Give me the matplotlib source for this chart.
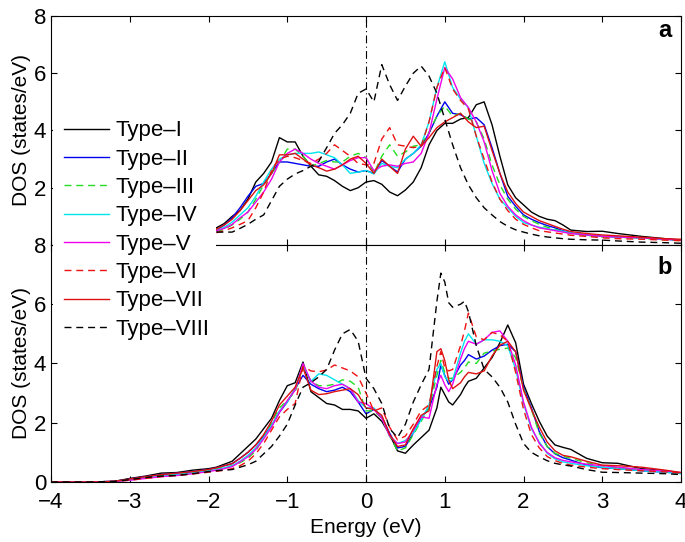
import matplotlib
matplotlib.use('Agg')
import matplotlib.pyplot as plt
from matplotlib.patches import Rectangle

plt.rcParams['font.family'] = ['Liberation Sans', 'DejaVu Sans']

# energy grid, panel a
e_a = [-1.9, -1.8, -1.7, -1.6, -1.5, -1.4, -1.3, -1.2, -1.1, -1.0,
       -0.9, -0.8, -0.7, -0.6, -0.5, -0.4, -0.3, -0.2, -0.1, 0.0,
       0.1, 0.2, 0.3, 0.4, 0.5, 0.6, 0.7, 0.8, 0.9, 1.0,
       1.1, 1.2, 1.3, 1.4, 1.5, 1.6, 1.7, 1.8, 1.9, 2.0,
       2.1, 2.2, 2.3, 2.4, 2.5, 2.6,
       2.8, 3.0, 3.2, 3.5, 3.8, 4.0]

a_t1 = [0.6, 0.75, 1.0, 1.2, 1.6, 2.2, 2.5, 2.9, 3.75, 3.6,
        3.6, 3.1, 2.75, 2.45, 2.4, 2.25, 2.05, 1.9, 2.0, 2.2,
        2.25, 2.12, 1.85, 1.72, 1.92, 2.2, 2.7, 3.5, 4.0, 4.25,
        4.25, 4.4, 4.45, 4.9, 5.0, 4.2, 3.1, 2.1, 1.65, 1.4,
        1.15, 1.0, 0.9, 0.85, 0.7, 0.52,
        0.47, 0.48, 0.4, 0.3, 0.22, 0.17]
a_t2 = [0.52, 0.7, 0.95, 1.3, 1.7, 2.05, 2.15, 2.5, 2.9, 2.9,
        2.85, 2.8, 2.75, 2.75, 2.9, 3.0, 2.8, 2.65, 2.55, 2.6,
        2.5, 2.95, 2.75, 2.55, 3.0, 3.2, 3.45, 3.9, 4.5, 5.0,
        4.6, 4.55, 4.4, 4.45, 4.2, 3.4, 2.5, 1.7, 1.35, 1.05,
        0.9, 0.78, 0.68, 0.6, 0.5, 0.42,
        0.35, 0.3, 0.28, 0.25, 0.2, 0.17]
a_t3 = [0.47, 0.55, 0.7, 0.9, 1.15, 1.6, 2.1, 2.5, 2.9, 3.35,
        3.35, 3.1, 2.75, 2.85, 2.95, 2.9, 2.9, 3.1, 3.2, 3.05,
        2.5, 3.1, 3.5, 3.1, 3.25, 3.45, 3.5, 3.95, 4.5, 4.85,
        4.5, 4.6, 4.4, 4.3, 3.7, 2.8, 2.1, 1.6, 1.25, 1.0,
        0.85, 0.72, 0.62, 0.55, 0.47, 0.4,
        0.33, 0.28, 0.27, 0.23, 0.18, 0.15]
a_t4 = [0.52, 0.62, 0.8, 1.05, 1.3, 1.7, 2.2, 2.65, 3.0, 3.15,
        3.2, 3.2, 3.2, 3.25, 3.15, 3.05, 2.8, 2.5, 2.55, 2.6,
        2.48, 2.85, 2.75, 2.7, 3.0, 3.2, 3.5, 4.3, 5.5, 6.4,
        5.5, 5.1, 4.8, 3.8, 2.85, 2.15, 1.6, 1.3, 1.0, 0.78,
        0.7, 0.62, 0.57, 0.52, 0.48, 0.42,
        0.35, 0.3, 0.28, 0.24, 0.2, 0.16]
a_t5 = [0.5, 0.58, 0.72, 0.95, 1.15, 1.5, 1.85, 2.3, 2.9, 3.2,
        3.35, 3.2, 3.0, 2.85, 2.75, 2.65, 2.8, 2.95, 3.05, 3.05,
        2.6, 2.75, 2.8, 2.75, 2.85, 2.9, 3.2, 3.9, 5.1, 6.2,
        5.8, 5.15, 4.8, 4.3, 3.6, 2.6, 1.8, 1.35, 1.05, 0.85,
        0.7, 0.6, 0.55, 0.5, 0.45, 0.4,
        0.35, 0.3, 0.28, 0.25, 0.2, 0.17]
a_t6 = [0.43, 0.5, 0.6, 0.72, 0.85, 1.3, 1.85, 2.6, 3.0, 3.1,
        3.05, 2.95, 2.85, 3.0, 3.2, 3.5, 3.3, 3.1, 2.85, 2.8,
        2.85, 3.7, 4.1, 3.5, 3.45, 3.4, 3.45, 4.3, 5.5, 6.2,
        5.45, 5.05, 4.75, 3.8, 3.0, 2.2, 1.6, 1.2, 0.9, 0.72,
        0.6, 0.5, 0.46, 0.42, 0.38, 0.34,
        0.3, 0.25, 0.22, 0.2, 0.17, 0.15]
a_t7 = [0.55, 0.7, 0.9, 1.2, 1.55, 1.9, 2.1, 2.5, 3.15, 3.15,
        3.2, 3.0, 2.8, 2.7, 2.58, 2.65, 2.8, 3.0, 3.1, 2.85,
        2.5, 3.0, 2.75, 2.5, 3.35, 3.8, 3.45, 3.75, 4.1, 4.3,
        4.45, 4.6, 4.3, 4.1, 4.15, 3.3, 2.5, 1.85, 1.45, 1.15,
        1.0, 0.85, 0.75, 0.65, 0.55, 0.47,
        0.4, 0.35, 0.32, 0.27, 0.22, 0.2]
a_t8 = [0.45, 0.45, 0.45, 0.58, 0.72, 0.9, 1.05, 1.55, 2.05, 2.3,
        2.48, 2.6, 2.75, 2.92, 3.4, 3.9, 4.2, 4.6, 5.3, 5.45,
        5.0, 6.3, 5.6, 5.05, 5.55, 6.0, 6.25, 5.9, 5.3, 4.4,
        3.5, 2.7, 2.1, 1.65, 1.3, 1.05, 0.82, 0.65, 0.53, 0.45,
        0.38, 0.32, 0.28, 0.25, 0.22, 0.2,
        0.18, 0.17, 0.14, 0.1, 0.08, 0.06]

# energy grid, panel b
e_b = [-4.0, -3.5, -3.2, -3.0, -2.8, -2.6, -2.4, -2.2,
       -2.0, -1.9, -1.8, -1.7, -1.6, -1.5, -1.4, -1.3, -1.2, -1.1,
       -1.0, -0.9, -0.8, -0.7, -0.6, -0.5, -0.4, -0.3, -0.2, -0.1,
       0.0, 0.1, 0.2, 0.3, 0.4, 0.5, 0.6, 0.7, 0.8, 0.9,
       0.95, 1.0, 1.05, 1.1, 1.2, 1.25, 1.3, 1.4,
       1.5, 1.6, 1.7, 1.8, 1.9, 2.0, 2.1, 2.2, 2.3, 2.4, 2.5, 2.6,
       2.8, 3.0, 3.2, 3.5, 3.8, 4.0]

b_t1 = [0, 0, 0.02, 0.12, 0.2, 0.3, 0.32, 0.4,
        0.45, 0.5, 0.6, 0.7, 0.95, 1.2, 1.45, 1.8, 2.15, 2.75,
        3.25, 3.35, 4.05, 3.05, 2.85, 2.65, 2.6, 2.45, 2.45, 2.4,
        2.15, 2.3, 2.05, 1.6, 1.05, 0.97, 1.25, 1.5, 1.75, 2.5,
        3.2, 2.95, 2.7, 2.6, 2.95, 3.2, 3.4, 3.5,
        3.85, 4.2, 4.7, 5.3, 4.7, 3.3, 2.65, 2.05, 1.55, 1.25, 1.17, 1.1,
        0.8, 0.65, 0.63, 0.45, 0.38, 0.3]
b_t2 = [0, 0, 0.02, 0.1, 0.18, 0.25, 0.3, 0.35,
        0.42, 0.48, 0.55, 0.62, 0.8, 1.0, 1.25, 1.55, 1.9, 2.35,
        2.7, 3.15, 3.6, 3.3, 3.15, 3.05, 3.1, 3.2, 3.05, 2.7,
        2.3, 2.45, 2.2, 1.65, 1.15, 1.2, 1.65, 2.15, 2.5, 3.2,
        3.95, 3.6, 3.3, 3.45, 3.95, 4.1, 4.3, 4.15,
        4.25, 4.45, 4.6, 4.65, 4.4, 3.2, 2.5, 1.7, 1.2, 0.95, 0.82, 0.74,
        0.57, 0.48, 0.45, 0.38, 0.33, 0.3]
b_t3 = [0, 0, 0.02, 0.08, 0.15, 0.22, 0.28, 0.33,
        0.4, 0.45, 0.5, 0.55, 0.65, 0.8, 1.05, 1.5, 2.0, 2.5,
        2.75, 3.05, 3.9, 3.4, 3.25, 3.25, 3.3, 3.45, 3.4, 3.2,
        2.4, 2.4, 2.15, 1.55, 1.05, 1.15, 1.6, 2.05, 2.5, 3.6,
        4.1, 3.7, 3.5, 3.5, 3.7, 3.85, 4.05, 4.0,
        4.35, 4.42, 4.48, 4.52, 4.2, 3.15, 2.45, 1.65, 1.2, 0.97, 0.87, 0.8,
        0.65, 0.55, 0.48, 0.42, 0.35, 0.3]
b_t4 = [0, 0, 0.02, 0.07, 0.14, 0.2, 0.25, 0.3,
        0.38, 0.42, 0.48, 0.55, 0.7, 0.9, 1.15, 1.5, 1.9, 2.4,
        2.7, 3.15, 3.95, 3.4, 3.65, 3.6, 3.45, 3.3, 3.15, 2.75,
        2.5, 2.5, 2.2, 1.55, 1.3, 1.4, 1.65, 2.1, 2.6, 3.8,
        4.0, 3.55, 3.4, 3.45, 4.35, 4.75, 5.0, 4.65,
        4.8, 4.8, 4.75, 4.6, 3.8, 2.65, 1.8, 1.35, 0.97, 0.78, 0.68, 0.63,
        0.55, 0.5, 0.45, 0.38, 0.33, 0.28]
b_t5 = [0, 0, 0.02, 0.06, 0.12, 0.18, 0.22, 0.28,
        0.35, 0.4, 0.45, 0.52, 0.68, 0.85, 1.1, 1.45, 1.85, 2.35,
        2.75, 3.1, 4.0, 3.4, 3.2, 3.15, 3.25, 3.3, 3.15, 2.7,
        2.65, 2.45, 2.15, 1.55, 1.3, 1.35, 1.75, 2.2, 2.15, 3.3,
        3.6, 3.28, 3.05, 3.3, 4.15, 4.5, 4.75, 4.65,
        4.8, 5.05, 5.1, 4.75, 3.95, 2.7, 1.85, 1.3, 1.0, 0.82, 0.73, 0.68,
        0.6, 0.55, 0.5, 0.42, 0.37, 0.32]
b_t6 = [0, 0, 0.02, 0.06, 0.12, 0.18, 0.22, 0.27,
        0.33, 0.36, 0.4, 0.45, 0.55, 0.7, 0.95, 1.3, 1.75, 2.2,
        2.45, 2.65, 3.9, 3.75, 3.72, 3.78, 3.95, 3.85, 3.75, 3.55,
        3.0, 2.4, 2.5, 1.85, 1.42, 1.55, 1.95, 2.4, 2.6, 3.9,
        4.4, 3.85, 3.75, 3.8, 4.6, 5.1, 5.7, 4.9,
        4.8, 5.05, 4.97, 4.75, 3.7, 2.45, 1.6, 1.15, 0.86, 0.72, 0.63, 0.57,
        0.5, 0.45, 0.42, 0.38, 0.34, 0.3]
b_t7 = [0, 0, 0.02, 0.1, 0.18, 0.25, 0.3, 0.35,
        0.42, 0.48, 0.55, 0.62, 0.8, 1.0, 1.25, 1.6, 2.05, 2.6,
        2.9, 3.2, 3.85, 3.1, 2.95, 2.98, 3.05, 3.1, 3.15, 2.95,
        2.5, 2.45, 2.25, 1.6, 1.2, 1.25, 1.8, 2.25, 2.4, 4.4,
        4.5, 4.1, 3.45, 3.15, 3.35, 3.55, 3.7, 3.65,
        3.75, 4.25, 4.62, 4.75, 4.4, 3.1, 2.45, 1.85, 1.35, 1.05, 0.9, 0.85,
        0.7, 0.57, 0.55, 0.5, 0.4, 0.32]
b_t8 = [0, 0, 0.02, 0.08, 0.15, 0.2, 0.22, 0.28,
        0.35, 0.38, 0.4, 0.42, 0.5, 0.58, 0.7, 0.95, 1.2, 1.55,
        1.95, 2.6, 3.2, 3.35, 3.55, 3.8, 4.45, 5.0, 5.15, 4.75,
        3.5, 3.15, 2.65, 1.8, 1.5, 1.95, 2.7, 3.28, 3.8, 6.1,
        7.05, 6.75, 6.05, 5.9, 6.0, 6.1, 5.75, 4.6,
        3.8, 3.55, 3.2, 2.7, 1.95, 1.3, 1.0, 0.85, 0.72, 0.63, 0.58, 0.54,
        0.42, 0.33, 0.32, 0.3, 0.28, 0.25]

labels = ['Type\u2013I', 'Type\u2013II', 'Type\u2013III', 'Type\u2013IV',
          'Type\u2013V', 'Type\u2013VI', 'Type\u2013VII', 'Type\u2013VIII']
colors = ['k', '#0000ee', '#22dd22', '#00e5ee', '#ee00ee', '#ee1111', '#dd1111', 'k']
dashed = [False, False, True, False, False, True, False, True]

top_data = [a_t1, a_t2, a_t3, a_t4, a_t5, a_t6, a_t7, a_t8]
bot_data = [b_t1, b_t2, b_t3, b_t4, b_t5, b_t6, b_t7, b_t8]

fig = plt.figure(figsize=(6.85, 5.42), dpi=100)
ax1 = fig.add_axes([0.0745, 0.548, 0.9197, 0.4225])
ax2 = fig.add_axes([0.0745, 0.1107, 0.9197, 0.4373])

handles = []
for i in range(8):
    if dashed[i]:
        kw = dict(linestyle=(0, (5, 3.5)))
    else:
        kw = dict(linestyle='-')
    ax1.plot(e_a, top_data[i], color=colors[i], lw=1.0, **kw)
    h, = ax2.plot(e_b, bot_data[i], color=colors[i], lw=1.0, **kw)
    handles.append(h)

for ax in (ax1, ax2):
    ax.axvline(0, color='k', lw=0.8, linestyle=(0, (7, 3, 1, 3)))
    ax.set_xlim(-4, 4)
    ax.set_ylim(0, 8)
    ax.set_xticks(range(-4, 5))
    ax.tick_params(direction='in', top=True, right=True, length=4,
                   width=0.8, labelsize=16)
    ax.tick_params(axis='x', pad=7)
    ax.set_ylabel('DOS (states/eV)', fontsize=15, labelpad=2)
    for s in ax.spines.values():
        s.set_linewidth(0.8)

ax1.set_yticks([2, 4, 6, 8])
ax1.set_xticklabels([])
ax2.set_yticks([0, 2, 4, 6, 8])
ax2.set_xticklabels(['\u22124', '\u22123', '\u22122', '\u22121', '0', '1', '2', '3', '4'])
ax2.set_xlabel('Energy (eV)', fontsize=15, labelpad=4)

ax1.text(0.985, 0.985, 'a', transform=ax1.transAxes, ha='right', va='top',
         fontsize=17, fontweight='bold')
ax2.text(0.985, 0.955, 'b', transform=ax2.transAxes, ha='right', va='top',
         fontsize=17, fontweight='bold')

# white box behind the legend, over both panels
fig.patches.append(Rectangle((0.0774, 0.3635), 0.238, 0.428,
                             transform=fig.transFigure, facecolor='white',
                             edgecolor='none', zorder=2))
fig.legend(handles, labels, loc='upper left', bbox_to_anchor=(0.094, 0.778),
           frameon=False, fontsize=16, handlelength=2.0, handletextpad=0.3,
           labelspacing=0.33, borderpad=0, borderaxespad=0)

plt.savefig('out.png', dpi=100)
